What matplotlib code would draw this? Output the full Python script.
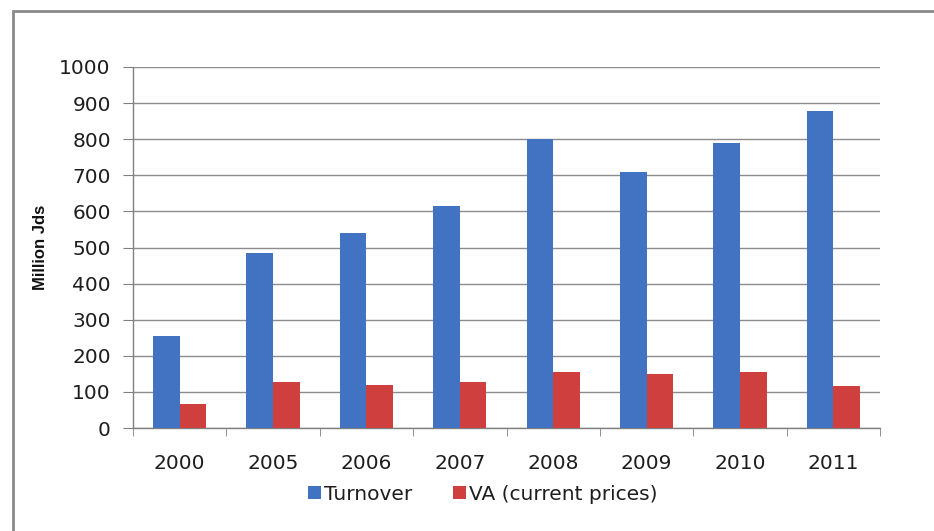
import matplotlib
matplotlib.use("Agg")
import matplotlib.pyplot as plt
from matplotlib.patches import Rectangle
import numpy as np

years = ["2000", "2005", "2006", "2007", "2008", "2009", "2010", "2011"]
turnover = [254, 485, 540, 616, 800, 709, 790, 877]
va_current = [67, 127, 118, 127, 156, 150, 156, 116]
y_ticks = [0, 100, 200, 300, 400, 500, 600, 700, 800, 900, 1000]

plt.rcParams['font.family'] = ['DejaVu Sans']
TXT = "#1e1e1e"
FS = 14.5

fig = plt.figure(figsize=(9.34, 5.31), dpi=100)
fig.patch.set_facecolor("white")

# outer chart frame
fig.patches.append(Rectangle((12.5 / 934, -0.05), 1.1, (531 - 11) / 531 + 0.05,
                             transform=fig.transFigure, fill=False,
                             edgecolor="#8a8a8a", linewidth=2.0))

ax = fig.add_axes([133 / 934, (531 - 428) / 531, 747 / 934, 361 / 531])
x = np.arange(len(years))
w = 0.285
ax.bar(x - w / 2, turnover, width=w, color="#4273C3", label="Turnover", zorder=3)
ax.bar(x + w / 2, va_current, width=w, color="#CF3F3D", label="VA (current prices)", zorder=3)

ax.set_xlim(-0.5, len(years) - 0.5)
ax.set_ylim(0, 1000)
ax.set_yticks(y_ticks)
ax.set_yticklabels([str(v) for v in y_ticks], fontsize=FS, color=TXT)
ax.set_xticks(x)
ax.set_xticklabels(years, fontsize=FS, color=TXT)
ax.set_xticks(np.arange(-0.5, len(years)), minor=True)
ax.tick_params(axis="x", which="major", length=0, pad=19)
ax.tick_params(axis="x", which="minor", length=6, color="#808080", direction="out")
ax.tick_params(axis="y", length=7, color="#808080", direction="out", pad=9)

ax.grid(axis="y", color="#8c8c8c", linewidth=1.0, zorder=0)
for side in ("top", "right"):
    ax.spines[side].set_visible(False)
for side in ("left", "bottom"):
    ax.spines[side].set_color("#808080")
    ax.spines[side].set_linewidth(1.0)

ax.set_ylabel("Million Jds", fontsize=12, fontweight="bold", color="#111111",
              family=["Liberation Sans", "DejaVu Sans"], labelpad=8)

fig.legend(loc="center", bbox_to_anchor=(483 / 934, 1 - 494 / 531), ncol=2,
           frameon=False, fontsize=FS, handlelength=0.65, handleheight=0.65,
           handletextpad=0.15, columnspacing=2.0, labelcolor=TXT)

fig.savefig("out.png", dpi=100, facecolor="white")
